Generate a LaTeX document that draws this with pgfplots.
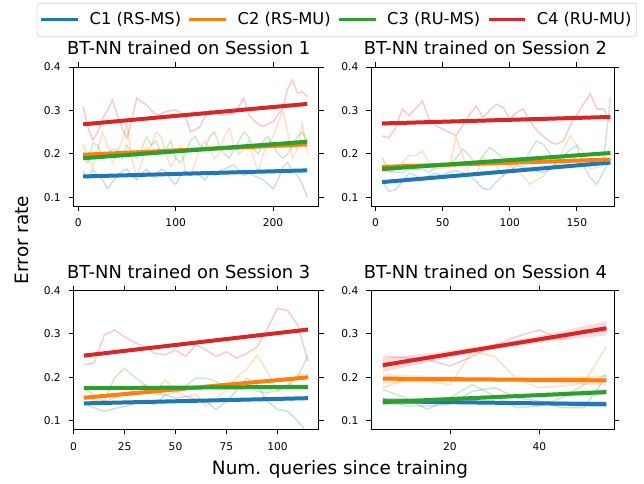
\documentclass[border=0pt]{standalone}
\usepackage{fontspec}
\setmainfont{DejaVu Sans}
\usepackage{pgfplots}
\pgfplotsset{compat=1.18}

\definecolor{cOne}{HTML}{1F77B4}
\definecolor{cTwo}{HTML}{FF7F0E}
\definecolor{cThree}{HTML}{2CA02C}
\definecolor{cFour}{HTML}{D62728}

\pgfplotsset{
  panel/.style={
    scale only axis,
    anchor=south west,
    height=104.25pt,
    ymin=0.08, ymax=0.4,
    ytick={0.1,0.2,0.3,0.4},
    yticklabels={0.1,0.2,0.3,0.4},
    tick align=outside,
    major tick length=3.6pt,
    every tick/.style={black, line width=0.6pt},
    axis line style={line width=0.6pt},
    tick label style={font=\fontsize{8}{9.6}\selectfont},
    xticklabel style={yshift=-2.5pt},
    yticklabel style={xshift=-2.3pt},
    /pgf/number format/assume math mode=true,
    title style={font=\fontsize{13.4}{15}\selectfont, at={(0.5,1)}, anchor=base, yshift=3.2pt, xshift=-5.5pt},
  },
  faint/.style={forget plot, line width=1.1pt, opacity=0.24},
  reg/.style={line width=3pt},
  band/.style={forget plot, draw=none, fill opacity=0.16},
}

\begin{document}
\begin{tikzpicture}
\useasboundingbox (0,0) rectangle (483pt,363pt);

% Session 1
\begin{axis}[panel, at={(55pt,208.5pt)}, width=184.1pt,
  xmin=-5.1, xmax=247, xtick={0,100,200},
  title={BT-NN trained on Session 1},
  legend columns=4,
  legend style={at={(1.074,1.4604)}, anchor=north, draw=black!18, rounded corners=2pt,
    font=\fontsize{12.2}{14}\selectfont, inner xsep=2pt, inner ysep=5pt,
    /tikz/every odd column/.append style={column sep=5.5pt},
    /tikz/every even column/.append style={column sep=3pt}},
  legend image code/.code={\draw[#1, line width=2.4pt] (0pt,0pt) -- (27.5pt,0pt);},
]
\addplot[faint, cOne] coordinates {(5,0.16) (10,0.145) (15,0.165) (20,0.15) (25,0.14) (30,0.12) (35,0.135) (40,0.15) (45,0.16) (50,0.165) (55,0.15) (60,0.14) (65,0.155) (70,0.165) (75,0.15) (80,0.145) (85,0.165) (90,0.16) (95,0.14) (100,0.13) (105,0.15) (110,0.16) (115,0.15) (120,0.155) (125,0.15) (130,0.14) (135,0.155) (140,0.15) (145,0.16) (150,0.165) (155,0.17) (160,0.175) (165,0.16) (170,0.15) (175,0.155) (180,0.15) (185,0.145) (190,0.14) (195,0.13) (200,0.12) (205,0.14) (210,0.17) (215,0.18) (220,0.16) (225,0.15) (230,0.13) (235,0.10)};
\addplot[faint, cTwo] coordinates {(5,0.222) (10,0.19) (15,0.17) (20,0.21) (25,0.25) (30,0.22) (35,0.18) (40,0.2) (45,0.23) (50,0.27) (55,0.19) (60,0.145) (65,0.18) (70,0.21) (75,0.22) (80,0.25) (85,0.24) (90,0.2) (95,0.17) (100,0.19) (105,0.22) (110,0.16) (115,0.15) (120,0.18) (125,0.21) (130,0.23) (135,0.21) (140,0.19) (145,0.2) (150,0.24) (155,0.26) (160,0.22) (165,0.2) (170,0.21) (175,0.23) (180,0.19) (185,0.16) (190,0.2) (195,0.22) (200,0.24) (205,0.27) (210,0.3) (215,0.25) (220,0.19) (225,0.21) (230,0.27) (235,0.2)};
\addplot[faint, cThree] coordinates {(5,0.19) (10,0.18) (15,0.225) (20,0.22) (25,0.19) (30,0.2) (35,0.21) (40,0.21) (45,0.19) (50,0.22) (55,0.2) (60,0.19) (65,0.21) (70,0.24) (75,0.22) (80,0.23) (85,0.2) (90,0.21) (95,0.23) (100,0.19) (105,0.18) (110,0.2) (115,0.23) (120,0.24) (125,0.22) (130,0.21) (135,0.24) (140,0.25) (145,0.22) (150,0.2) (155,0.19) (160,0.21) (165,0.23) (170,0.25) (175,0.24) (180,0.21) (185,0.2) (190,0.23) (195,0.24) (200,0.22) (205,0.2) (210,0.19) (215,0.2) (220,0.22) (225,0.24) (230,0.25) (235,0.23)};
\addplot[faint, cFour] coordinates {(5,0.309) (10,0.26) (15,0.232) (20,0.25) (25,0.282) (30,0.3) (35,0.324) (40,0.29) (45,0.26) (50,0.236) (55,0.28) (60,0.328) (65,0.32) (70,0.313) (75,0.3) (80,0.29) (85,0.292) (90,0.297) (95,0.3) (100,0.301) (105,0.295) (110,0.286) (115,0.251) (120,0.255) (125,0.263) (130,0.285) (135,0.301) (140,0.296) (145,0.29) (150,0.29) (155,0.292) (160,0.294) (165,0.31) (170,0.328) (175,0.29) (180,0.278) (185,0.268) (190,0.263) (195,0.27) (200,0.274) (205,0.29) (210,0.305) (215,0.35) (220,0.37) (225,0.34) (230,0.343) (235,0.332)};
\addplot[reg, cOne] coordinates {(5,0.148) (235,0.162)};
\addplot[reg, cTwo] coordinates {(5,0.198) (235,0.222)};
\addplot[reg, cThree] coordinates {(5,0.19) (235,0.228)};
\addplot[reg, cFour] coordinates {(5,0.268) (235,0.315)};
\legend{C1 (RS-MS), C2 (RS-MU), C3 (RU-MS), C4 (RU-MU)}
\end{axis}

% Session 2
\begin{axis}[panel, at={(278.25pt,208.5pt)}, width=182.6pt,
  xmin=-3.3, xmax=178, xtick={0,50,100,150},
  title={BT-NN trained on Session 2}]
\addplot[faint, cOne] coordinates {(5,0.137) (10,0.114) (15,0.118) (20,0.135) (25,0.156) (30,0.15) (35,0.14) (40,0.15) (45,0.155) (50,0.15) (55,0.158) (60,0.161) (65,0.157) (70,0.15) (75,0.137) (80,0.12) (85,0.118) (90,0.135) (95,0.15) (100,0.16) (105,0.173) (110,0.17) (115,0.165) (120,0.16) (125,0.157) (130,0.165) (135,0.18) (140,0.195) (145,0.21) (150,0.219) (155,0.173) (160,0.145) (165,0.13) (170,0.16) (175,0.188)};
\addplot[faint, cTwo] coordinates {(5,0.173) (10,0.157) (15,0.165) (20,0.18) (25,0.196) (30,0.196) (35,0.207) (40,0.18) (45,0.165) (50,0.167) (55,0.169) (60,0.238) (65,0.196) (70,0.153) (75,0.149) (80,0.192) (85,0.18) (90,0.173) (95,0.149) (100,0.173) (105,0.16) (110,0.149) (115,0.13) (120,0.14) (125,0.149) (130,0.165) (135,0.18) (140,0.21) (145,0.241) (150,0.22) (155,0.203) (160,0.165) (165,0.17) (170,0.173) (175,0.184)};
\addplot[faint, cThree] coordinates {(5,0.192) (10,0.161) (15,0.158) (20,0.157) (25,0.165) (30,0.165) (35,0.165) (40,0.157) (45,0.17) (50,0.18) (55,0.173) (60,0.19) (65,0.211) (70,0.196) (75,0.173) (80,0.195) (85,0.215) (90,0.203) (95,0.19) (100,0.18) (105,0.18) (110,0.18) (115,0.205) (120,0.23) (125,0.222) (130,0.2) (135,0.184) (140,0.19) (145,0.199) (150,0.185) (155,0.173) (160,0.188) (165,0.188) (170,0.188) (175,0.33)};
\addplot[faint, cFour] coordinates {(5,0.241) (10,0.237) (15,0.26) (20,0.303) (25,0.288) (30,0.305) (35,0.322) (40,0.28) (45,0.265) (50,0.257) (55,0.25) (60,0.242) (65,0.265) (70,0.29) (75,0.31) (80,0.284) (85,0.3) (90,0.314) (95,0.307) (100,0.28) (105,0.295) (110,0.303) (115,0.275) (120,0.255) (125,0.24) (130,0.228) (135,0.222) (140,0.23) (145,0.265) (150,0.29) (155,0.315) (160,0.338) (165,0.303) (170,0.303) (175,0.272)};
\addplot[reg, cOne] coordinates {(5,0.135) (175,0.18)};
\addplot[reg, cTwo] coordinates {(5,0.17) (175,0.187)};
\addplot[reg, cThree] coordinates {(5,0.165) (175,0.202)};
\addplot[reg, cFour] coordinates {(5,0.27) (175,0.285)};
\end{axis}

% Session 3
\begin{axis}[panel, at={(55pt,40.9pt)}, width=184.1pt,
  xmin=-0.15, xmax=120.3, xtick={0,25,50,75,100},
  title={BT-NN trained on Session 3}]
\addplot[faint, cOne] coordinates {(5,0.141) (10,0.13) (15,0.122) (20,0.128) (25,0.133) (30,0.14) (35,0.145) (40,0.137) (45,0.16) (50,0.152) (55,0.156) (60,0.15) (65,0.145) (70,0.126) (75,0.145) (80,0.17) (85,0.198) (90,0.183) (95,0.145) (100,0.126) (105,0.122) (110,0.099) (115,0.07)};
\addplot[faint, cTwo] coordinates {(5,0.156) (10,0.148) (15,0.145) (20,0.152) (25,0.16) (30,0.172) (35,0.183) (40,0.168) (45,0.194) (50,0.168) (55,0.156) (60,0.16) (65,0.133) (70,0.152) (75,0.17) (80,0.2) (85,0.22) (90,0.251) (95,0.213) (100,0.168) (105,0.183) (110,0.206) (115,0.206)};
\addplot[faint, cThree] coordinates {(5,0.175) (10,0.16) (15,0.145) (20,0.198) (25,0.221) (30,0.2) (35,0.183) (40,0.16) (45,0.16) (50,0.165) (55,0.18) (60,0.198) (65,0.198) (70,0.19) (75,0.175) (80,0.18) (85,0.183) (90,0.168) (95,0.164) (100,0.17) (105,0.18) (110,0.2) (115,0.251)};
\addplot[faint, cFour] coordinates {(5,0.229) (10,0.233) (15,0.297) (20,0.309) (25,0.293) (30,0.28) (35,0.27) (40,0.255) (45,0.252) (50,0.263) (55,0.248) (60,0.275) (65,0.263) (70,0.248) (75,0.259) (80,0.244) (85,0.255) (90,0.27) (95,0.312) (100,0.358) (105,0.354) (110,0.32) (115,0.237)};
\addplot[reg, cOne] coordinates {(5,0.14) (115,0.152)};
\addplot[reg, cTwo] coordinates {(5,0.153) (115,0.2)};
\addplot[reg, cThree] coordinates {(5,0.175) (115,0.178)};
\addplot[reg, cFour] coordinates {(5,0.25) (115,0.31)};
\end{axis}

% Session 4
\begin{axis}[panel, at={(278.25pt,40.9pt)}, width=182.6pt,
  xmin=2.35, xmax=56.8, xtick={20,40},
  title={BT-NN trained on Session 4}]
\addplot[faint, cOne] coordinates {(5,0.153) (10,0.134) (15,0.134) (20,0.138) (25,0.168) (30,0.176) (35,0.153) (40,0.145) (45,0.13) (50,0.13) (55,0.202)};
\addplot[faint, cTwo] coordinates {(5,0.176) (10,0.195) (15,0.191) (20,0.183) (25,0.26) (30,0.248) (35,0.195) (40,0.176) (45,0.18) (50,0.187) (55,0.271)};
\addplot[faint, cThree] coordinates {(5,0.172) (10,0.153) (15,0.126) (20,0.153) (25,0.183) (30,0.157) (35,0.13) (40,0.134) (45,0.153) (50,0.183) (55,0.206)};
\addplot[faint, cFour] coordinates {(5,0.248) (10,0.245) (15,0.241) (20,0.226) (25,0.248) (30,0.275) (35,0.294) (40,0.309) (45,0.287) (50,0.309) (55,0.306)};
\addplot[band, fill=cOne] coordinates {(5,0.137) (17.5,0.138) (30,0.1375) (42.5,0.135) (55,0.130) (55,0.146) (42.5,0.145) (30,0.1455) (17.5,0.148) (5,0.153)} -- cycle;
\addplot[band, fill=cTwo] coordinates {(5,0.185) (17.5,0.189) (30,0.190) (42.5,0.187) (55,0.181) (55,0.205) (42.5,0.201) (30,0.200) (17.5,0.203) (5,0.209)} -- cycle;
\addplot[band, fill=cThree] coordinates {(5,0.135) (17.5,0.144) (30,0.1505) (42.5,0.155) (55,0.158) (55,0.174) (42.5,0.165) (30,0.1585) (17.5,0.154) (5,0.151)} -- cycle;
\addplot[band, fill=cFour] coordinates {(5,0.212) (17.5,0.240) (30,0.2645) (42.5,0.283) (55,0.297) (55,0.329) (42.5,0.301) (30,0.2765) (17.5,0.258) (5,0.244)} -- cycle;
\addplot[reg, cOne] coordinates {(5,0.145) (55,0.138)};
\addplot[reg, cTwo] coordinates {(5,0.197) (55,0.193)};
\addplot[reg, cThree] coordinates {(5,0.143) (55,0.166)};
\addplot[reg, cFour] coordinates {(5,0.228) (55,0.313)};
\end{axis}

\node[rotate=90, font=\fontsize{13.8}{16}\selectfont] at (16.5pt,183pt) {Error rate};
\node[font=\fontsize{13.8}{16}\selectfont] at (255pt,11pt) {Num. queries since training};
\end{tikzpicture}
\end{document}
